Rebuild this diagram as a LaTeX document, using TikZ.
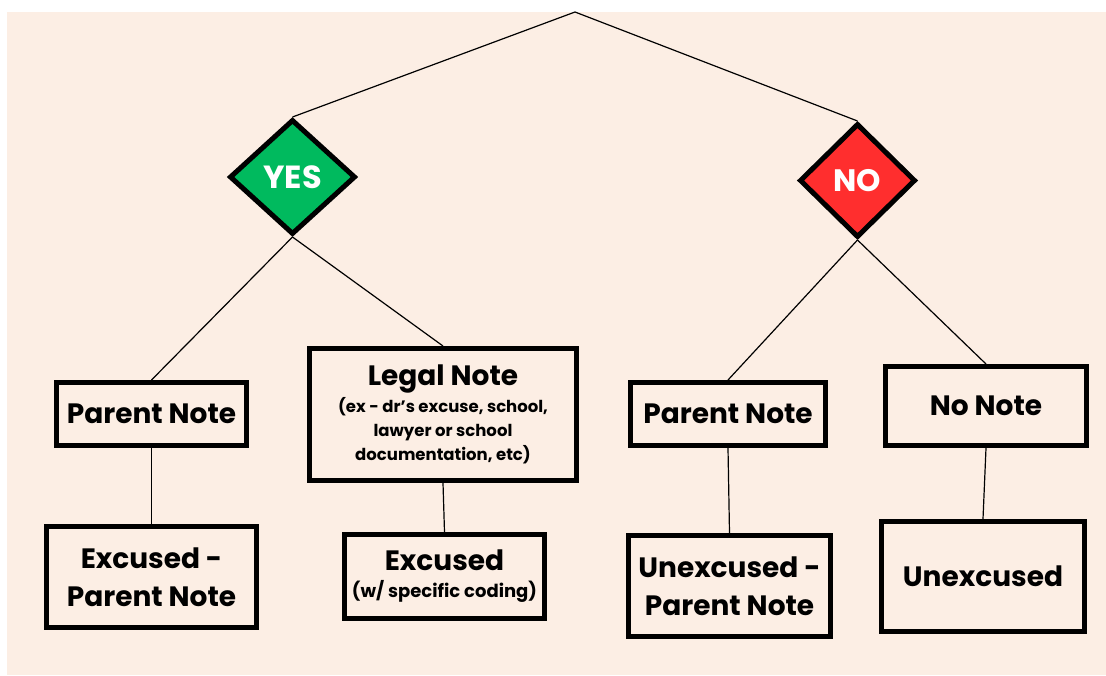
\documentclass[tikz,border=0pt]{standalone}
\usepackage{fontspec}
\setmainfont{Poppins}
\usetikzlibrary{shapes.geometric}
\definecolor{peach}{HTML}{FCEEE4}
\definecolor{yesgreen}{HTML}{00BA5E}
\definecolor{nored}{HTML}{FF2E2E}
\newcommand\subfnt{\fontsize{16.5}{24}\selectfont}
\newcommand\subfntb{\fontsize{18}{24}\selectfont}
\tikzset{
  box/.style={draw=black, line width=5pt, fill=peach, align=center, inner sep=0pt,
    font=\bfseries\fontsize{28}{38}\selectfont},
  dia/.style={diamond, draw=black, line width=5pt, inner sep=0pt, text=white,
    font=\bfseries\fontsize{32}{36}\selectfont},
  conn/.style={draw=black, line width=1.2pt}
}
\begin{document}
\begin{tikzpicture}[x=1pt,y=-1pt]
\useasboundingbox (0,0) rectangle (1106,675);
\fill[white] (0,0) rectangle (1106,675);
\fill[peach] (7,12) rectangle (1106,675);
\coordinate (top) at (575,12);
\node[dia, fill=yesgreen, minimum width=126, minimum height=115] (yes) at (292.5,177) {YES};
\node[dia, fill=nored, minimum width=116, minimum height=114, font=\bfseries\fontsize{31}{36}\selectfont] (no) at (857.5,180.5) {NO};
\node[box, minimum width=190, minimum height=63] (pl) at (151.5,414) {Parent Note};
\node[box, minimum width=267, minimum height=132, font=\bfseries\fontsize{28}{24}\selectfont] (legal) at (443,414.5)
  {Legal Note\\[3pt]{\subfnt (ex - dr’s excuse, school,}\\{\subfnt lawyer or school}\\{\subfnt documentation, etc)}};
\node[box, minimum width=195, minimum height=63] (pr) at (728,414) {Parent Note};
\node[box, minimum width=201, minimum height=79] (nn) at (986,406) {No Note};
\node[box, minimum width=210, minimum height=101] (ep) at (151.5,577) {Excused -\\Parent Note};
\node[box, minimum width=200, minimum height=84, font=\bfseries\fontsize{28}{27}\selectfont] (ex) at (444.5,576.5) {Excused\\{\subfntb (w/ specific coding)}};
\node[box, minimum width=202, minimum height=101] (up) at (729.5,586) {Unexcused -\\Parent Note};
\node[box, minimum width=203, minimum height=110] (un) at (983,576.5) {Unexcused};
\draw[conn] (top) -- (yes.north);
\draw[conn] (top) -- (no.north);
\draw[conn] (yes.south) -- (pl.north);
\draw[conn] (yes.south) -- (legal.north);
\draw[conn] (no.south) -- (pr.north);
\draw[conn] (no.south) -- (nn.north);
\draw[conn] (pl.south) -- (ep.north);
\draw[conn] (legal.south) -- (ex.north);
\draw[conn] (pr.south) -- (up.north);
\draw[conn] (nn.south) -- (un.north);
\end{tikzpicture}
\end{document}
